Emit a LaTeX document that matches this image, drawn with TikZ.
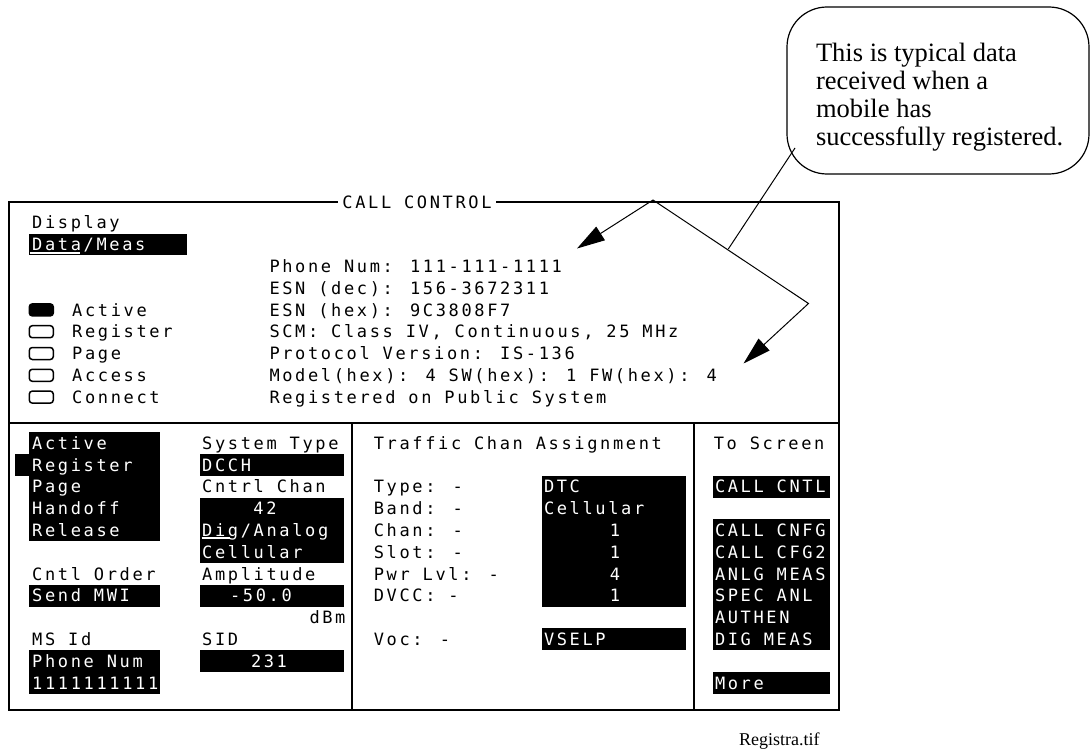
\documentclass[tikz,border=0pt]{standalone}
\usepackage{fontspec}
\usepackage{tikz}
\usetikzlibrary{arrows.meta}
\newfontfamily\hpfont[LetterSpace=15.5]{DejaVu Sans Mono}
\newfontfamily\notefont{Liberation Serif}
\newcommand\nodenote{This is typical data\\received when a\\mobile has\\successfully registered.}
\newcommand\nodephone{Phone Num: 111-111-1111}
\newcommand\nodeesnd{ESN (dec): 156-3672311}
\newcommand\nodeesnh{ESN (hex): 9C3808F7}
\newcommand\nodescm{SCM: Class IV, Continuous, 25 MHz}
\newcommand\nodeprot{Protocol Version: IS-136}
\newcommand\nodemodel{Model(hex): 4 SW(hex): 1 FW(hex): 4}
\newcommand\nodereg{Registered on Public System}
\tikzstyle{scr} = [inner sep=0pt, anchor=west, text height=12.4pt, text depth=0pt, font=\hpfont\fontsize{17}{20}\selectfont]
\tikzstyle{scrw} = [scr, text=white]
\tikzstyle{led} = [draw, rounded corners=3pt, minimum width=24pt, minimum height=12pt, inner sep=0pt, line width=1.5pt]
\tikzstyle{frame} = [line width=2pt]
\tikzstyle{note} = [draw, rounded corners=40pt, minimum width=302pt, minimum height=167pt, line width=1.2pt]
\tikzstyle{notetxt} = [inner sep=0pt, anchor=north west, align=left, font=\notefont\fontsize{26.5}{27.8}\selectfont]
\tikzset{>={Triangle[length=28pt,width=16pt]}, every picture/.style={line width=1pt}}
\begin{document}
\begin{tikzpicture}[x=1pt,y=-1pt]
\useasboundingbox (0,0) rectangle (1090,752);
% callout
\node[note] (note) at (938,90.5) {};
\node[notetxt] (notetxt) at (815.5,43) {\nodenote};
% screen frame
\node[scr, anchor=center, inner xsep=4pt] (title) at (417,202) {CALL CONTROL};
\draw[frame] (title.east) -- (839.3,202) -- (839.3,710) -- (9.3,710) -- (9.3,202) -- (title.west);
\draw[frame] (9.3,423) -- (839.3,423);
\draw[frame] (351.7,423) -- (351.7,710);
\draw[frame] (694,423) -- (694,710);
% upper panel
\node[scr] (disp) at (31.7,222.7) {Display};
\fill (29.3,233.6) rectangle (186.7,255.4);
\node[scrw] (dm) at (31.7,244.5) {Data/Meas};
\draw[white, line width=1.5pt] (30,252.8) -- (80,252.8);
\node[led, fill=black] (lact) at (41.3,309.9) {};
\node[led] (lreg) at (41.3,331.7) {};
\node[led] (lpage) at (41.3,353.5) {};
\node[led] (lacc) at (41.3,375.3) {};
\node[led] (lcon) at (41.3,397.1) {};
\node[scr] (tact) at (71.7,309.9) {Active};
\node[scr] (treg) at (71.7,331.7) {Register};
\node[scr] (tpage) at (71.7,353.5) {Page};
\node[scr] (tacc) at (71.7,375.3) {Access};
\node[scr] (tcon) at (71.7,397.1) {Connect};
\node[scr] (phone) at (269,266.3) {\nodephone};
\node[scr] (esnd) at (269,288.1) {\nodeesnd};
\node[scr] (esnh) at (269,309.9) {\nodeesnh};
\node[scr] (scm) at (269,331.7) {\nodescm};
\node[scr] (prot) at (269,353.5) {\nodeprot};
\node[scr] (model) at (269,375.3) {\nodemodel};
\node[scr] (reg) at (269,397.1) {\nodereg};
% arrows from the callout
\coordinate (apex) at (653,200);
\coordinate (bend) at (808.5,303.5);
\coordinate (tipa) at (577,248.5);
\coordinate (tipb) at (743.5,363.5);
\coordinate (tail) at (795,148);
\coordinate (join) at (728.3,249);
\draw[->] (apex) -- (tipa);
\draw[->] (apex) -- (bend) -- (tipb);
\draw (tail) -- (join);
% lower panel, highlight fields
\fill (29.3,432.1) rectangle (160,541.1);
\fill (15,453.9) rectangle (29.3,475.7);
\fill (200,453.9) rectangle (344.3,475.7);
\fill (200,497.5) rectangle (344.3,562.9);
\fill (29.3,584.7) rectangle (160,606.5);
\fill (200,584.7) rectangle (344.3,606.5);
\fill (29.3,650.1) rectangle (160,693.7);
\fill (200,650.1) rectangle (344.3,671.9);
\fill (541.7,475.7) rectangle (685.7,606.5);
\fill (541.7,628.3) rectangle (685.7,650.1);
\fill (712.7,475.7) rectangle (830,497.5);
\fill (712.7,519.3) rectangle (830,650.1);
\fill (712.7,671.9) rectangle (830,693.7);
% lower left
\node[scrw] (oact) at (31.7,443) {Active};
\node[scrw] (oreg) at (31.7,464.8) {Register};
\node[scrw] (opage) at (31.7,486.6) {Page};
\node[scrw] (ohand) at (31.7,508.4) {Handoff};
\node[scrw] (orel) at (31.7,530.2) {Release};
\node[scr] (cord) at (31.7,573.8) {Cntl Order};
\node[scrw] (mwi) at (31.7,595.6) {Send MWI};
\node[scr] (msid) at (31.7,639.2) {MS Id};
\node[scrw] (pnum) at (31.7,661) {Phone Num};
\node[scrw] (pval) at (31.7,682.8) {1111111111};
\node[scr] (stype) at (201.7,443) {System Type};
\node[scrw] (dcch) at (201.7,464.8) {DCCH};
\node[scr] (cchan) at (201.7,486.6) {Cntrl Chan};
\node[scrw, anchor=center] (cnum) at (265,508.4) {42};
\node[scrw] (dig) at (201.7,530.2) {Dig/Analog};
\draw[white, line width=1.5pt] (201.7,537.8) -- (230,537.8);
\node[scrw] (cell) at (201.7,552) {Cellular};
\node[scr] (ampl) at (201.7,573.8) {Amplitude};
\node[scrw, anchor=center] (aval) at (261,595.6) {-50.0};
\node[scr, anchor=east] (dbm) at (346,617.4) {dBm};
\node[scr] (sid) at (201.7,639.2) {SID};
\node[scrw, anchor=center] (sval) at (269,661) {231};
% traffic channel
\node[scr] (tca) at (373.3,443) {Traffic Chan Assignment};
\node[scr] (ttype) at (373.3,486.6) {Type: -};
\node[scr] (tband) at (373.3,508.4) {Band: -};
\node[scr] (tchan) at (373.3,530.2) {Chan: -};
\node[scr] (tslot) at (373.3,552) {Slot: -};
\node[scr] (tpwr) at (373.3,573.8) {Pwr Lvl: -};
\node[scr] (tdvcc) at (373.3,595.6) {DVCC: -};
\node[scr] (tvoc) at (373.3,639.2) {Voc: -};
\node[scrw] (vtype) at (543.5,486.6) {DTC};
\node[scrw] (vband) at (543.5,508.4) {Cellular};
\node[scrw, anchor=center] (vchan) at (615,530.2) {1};
\node[scrw, anchor=center] (vslot) at (615,552) {1};
\node[scrw, anchor=center] (vpwr) at (615,573.8) {4};
\node[scrw, anchor=center] (vdvcc) at (615,595.6) {1};
\node[scrw] (vvoc) at (543.5,639.2) {VSELP};
% to screen
\node[scr] (tos) at (713.3,443) {To Screen};
\node[scrw] (scntl) at (714.5,486.6) {CALL CNTL};
\node[scrw] (scnfg) at (714.5,530.2) {CALL CNFG};
\node[scrw] (scfg) at (714.5,552) {CALL CFG2};
\node[scrw] (sanlg) at (714.5,573.8) {ANLG MEAS};
\node[scrw] (sspec) at (714.5,595.6) {SPEC ANL};
\node[scrw] (sauth) at (714.5,617.4) {AUTHEN};
\node[scrw] (sdig) at (714.5,639.2) {DIG MEAS};
\node[scrw] (smore) at (714.5,682.8) {More};
% caption
\node[inner sep=0pt, anchor=base east, font=\notefont\fontsize{18}{20}\selectfont] (cap) at (820,745) {Registra.tif};
\end{tikzpicture}
\end{document}
